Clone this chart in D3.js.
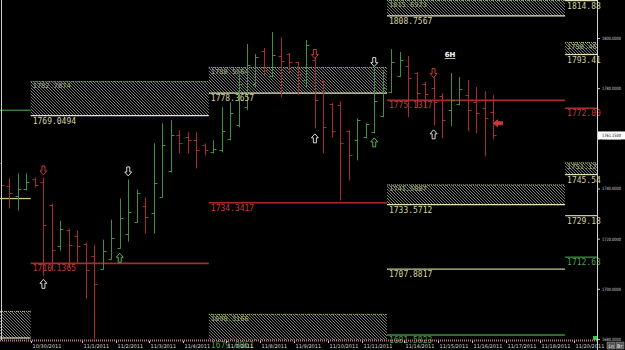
<!DOCTYPE html>
<html>
<head>
<meta charset="utf-8">
<script src="https://cdn.jsdelivr.net/npm/d3@7"></script>
<style>
  html, body { margin: 0; padding: 0; background: #000; }
  svg { display: block; }
</style>
</head>
<body>
<div id="chart"></div>
<script>
// 6H gold bars with weekly supply/demand zones

// bar index -> [open, high, low, close]
const bars = [
  [1750.0, 1752.0, 1736.4, 1741.2], [1740.8, 1744.0, 1732.0, 1738.4],
  [1737.2, 1746.0, 1731.2, 1740.0], [1740.0, 1746.0, 1739.2, 1742.4],
  [1743.6, 1744.4, 1740.4, 1741.2], [1742.4, 1744.4, 1705.2, 1725.6],
  [1733.6, 1734.0, 1707.2, 1715.6], [1717.2, 1727.2, 1715.2, 1724.0],
  [1723.6, 1724.0, 1708.4, 1717.6], [1721.2, 1723.2, 1710.4, 1717.2],
  [1718.0, 1718.4, 1696.0, 1707.6], [1713.2, 1717.6, 1680.0, 1702.0],
  [1708.0, 1719.6, 1707.6, 1715.2], [1712.0, 1727.6, 1711.6, 1720.4],
  [1716.4, 1736.0, 1716.0, 1728.4], [1722.0, 1743.6, 1718.8, 1730.8],
  [1726.8, 1739.6, 1726.4, 1738.4], [1733.2, 1736.4, 1722.0, 1728.8],
  [1730.4, 1758.0, 1722.0, 1742.0], [1736.8, 1766.0, 1736.4, 1757.2],
  [1746.8, 1767.2, 1746.4, 1761.2], [1761.2, 1763.2, 1754.0, 1758.0],
  [1760.4, 1762.4, 1754.0, 1759.2], [1759.2, 1762.4, 1748.0, 1755.2],
  [1757.2, 1758.0, 1753.2, 1755.2], [1754.4, 1759.2, 1754.0, 1755.6],
  [1755.2, 1772.4, 1754.4, 1762.8], [1759.6, 1774.4, 1759.2, 1770.0],
  [1765.2, 1785.2, 1764.4, 1781.6], [1772.4, 1797.6, 1771.2, 1789.2],
  [1781.6, 1793.6, 1780.4, 1792.4], [1794.8, 1796.0, 1785.2, 1787.2],
  [1784.8, 1802.4, 1784.0, 1793.2], [1792.8, 1800.4, 1776.4, 1790.8],
  [1793.6, 1794.0, 1786.0, 1790.4], [1790.4, 1790.4, 1777.2, 1785.6],
  [1783.2, 1799.2, 1780.4, 1797.2], [1791.2, 1792.4, 1764.0, 1775.2],
  [1782.8, 1783.2, 1754.0, 1764.4], [1773.6, 1774.0, 1760.4, 1762.8],
  [1773.2, 1774.8, 1735.2, 1758.0], [1762.8, 1763.2, 1743.2, 1753.2],
  [1759.2, 1768.0, 1751.2, 1767.2], [1760.4, 1766.0, 1760.0, 1765.6],
  [1762.4, 1788.0, 1762.0, 1774.8], [1768.8, 1787.2, 1768.4, 1780.0],
  [1778.4, 1795.6, 1778.0, 1790.4], [1784.8, 1794.4, 1784.4, 1791.2],
  [1788.8, 1792.8, 1768.4, 1784.0], [1786.0, 1786.4, 1772.4, 1778.0],
  [1781.6, 1782.4, 1772.4, 1777.6], [1780.0, 1784.4, 1765.2, 1774.4],
  [1776.8, 1778.0, 1760.0, 1767.2], [1771.2, 1786.0, 1764.8, 1775.2],
  [1773.6, 1784.4, 1773.2, 1779.6], [1777.2, 1783.2, 1762.8, 1771.2],
  [1774.4, 1780.4, 1762.0, 1770.0], [1772.0, 1778.8, 1752.8, 1768.0],
  [1770.4, 1777.2, 1759.6, 1761.15]
];

const lastPrice = 1761.15;

// hatched zones: [from bar, to bar, top price, bottom price, top label, bottom label]
const zones = [
  [-1, 3.5, 1691.2, 1680.4, '', ''],
  [3.5, 24.5, 1782.8, 1769.05, '1782.7874', '1769.0494'],
  [24.5, 45.5, 1788.4, 1778.0, '1788.5564', '1778.3657'],
  [24.5, 45.5, 1690.0, 1679.2, '1690.3166', '1679.0861'],
  [45.5, 66.5, 1815.2, 1808.8, '1815.6923', '1808.7567'],
  [45.5, 66.5, 1741.6, 1733.57, '1741.5087', '1733.5712'],
  [66.5, 70.4, 1815.2, 1814.9, '', '1814.88'],
  [66.5, 70.4, 1798.4, 1793.41, '1798.46', '1793.41'],
  [66.5, 70.4, 1750.4, 1745.54, '1751.12', '1745.54']
];

// single levels: [from bar, to bar, price, kind, label]
const levels = [
  [-1, 3.5, 1771.2, 'green', ''],
  [-1, 3.5, 1736.0, 'olive', ''],
  [3.5, 24.5, 1710.14, 'red', '1710.1365'],
  [24.5, 45.5, 1734.34, 'red', '1734.3417'],
  [45.5, 66.5, 1775.13, 'red', '1775.1317'],
  [45.5, 66.5, 1707.88, 'olive', '1707.8817'],
  [45.5, 66.5, 1681.6, 'green', '1681.5823'],
  [66.5, 70.4, 1772.0, 'red', '1772.00'],
  [66.5, 70.4, 1729.18, 'olive', '1729.18'],
  [66.5, 70.4, 1712.63, 'green', '1712.63']
];

// signal arrows: [bar, price, direction, colour]
const signals = [
  [5, 1747.2, 'down', 'red'], [5, 1702.0, 'up', 'white'],
  [15, 1746.8, 'down', 'white'], [14, 1712.4, 'up', 'green'],
  [37, 1793.6, 'down', 'red'], [37, 1760.0, 'up', 'white'],
  [44, 1790.4, 'down', 'white'], [44, 1758.4, 'up', 'green'],
  [51, 1786.0, 'down', 'red'], [51, 1761.6, 'up', 'white'],
  [58.6, 1766.0, 'left', 'red']
];

const priceTicks = [1680, 1700, 1720, 1740, 1760, 1780, 1800];
const dateLabels = ['10/30/2011', '11/1/2011', '11/2/2011', '11/3/2011', '11/4/2011',
  '11/7/2011', '11/8/2011', '11/9/2011', '11/10/2011', '11/11/2011', '11/14/2011',
  '11/15/2011', '11/16/2011', '11/17/2011', '11/18/2011', '11/20/2011'];
const dateAt = [3.5, 9.5, 13.5, 17.5, 21.5, 26.5, 30.5, 34.5, 38.5, 42.5, 47.5,
  51.5, 55.5, 59.5, 63.5, 67.5];

const width = 625, height = 350;
const plotRight = 597, plotBottom = 340;

const colors = {
  green: '#3f8f45', red: '#a82c2c', olive: '#c8c890', white: '#e8e8e8',
  greenText: '#4fa04f', redText: '#c43a3a', oliveText: '#d4d4a4'
};

const x = d3.scaleLinear().domain([0, 58]).range([1, 493]);
const y = d3.scaleLinear().domain([1680, 1800]).range([339, 38]);
const px = v => Math.max(0, Math.min(plotRight, x(v)));

const svg = d3.select('#chart').append('svg')
  .attr('width', width).attr('height', height)
  .style('background', '#000')
  .style('font-family', '"DejaVu Sans Mono", monospace');

const defs = svg.append('defs');
defs.append('pattern')
  .attr('id', 'hatch')
  .attr('patternUnits', 'userSpaceOnUse')
  .attr('width', 3).attr('height', 3)
  .append('path')
  .attr('d', 'M0,0 L3,3 M-1,2 L1,4 M2,-1 L4,1')
  .attr('stroke', '#9c9c9c')
  .attr('stroke-width', 0.8);
defs.append('clipPath').attr('id', 'plot')
  .append('rect').attr('x', 0).attr('y', 0).attr('width', plotRight).attr('height', plotBottom);

const plot = svg.append('g').attr('clip-path', 'url(#plot)');

// zones
const zoneG = plot.append('g');
zones.forEach(([a, b, top, bot, tl]) => {
  const x0 = px(a), x1 = px(b);
  const y0 = y(top), y1 = y(bot);
  zoneG.append('rect')
    .attr('x', x0).attr('y', y0)
    .attr('width', x1 - x0).attr('height', y1 - y0)
    .attr('fill', 'url(#hatch)');
  zoneG.append('line')
    .attr('x1', x0).attr('x2', x1).attr('y1', y0 + 0.5).attr('y2', y0 + 0.5)
    .attr('stroke', '#a8c870').attr('stroke-dasharray', '1,1');
  zoneG.append('line')
    .attr('x1', x0).attr('x2', x1).attr('y1', y1).attr('y2', y1)
    .attr('stroke', '#e6e6b8').attr('stroke-width', 1.2);
  if (tl) {
    zoneG.append('text')
      .attr('x', x0 + 2).attr('y', y0 + 7)
      .attr('font-size', 7).attr('fill', '#9fb37a')
      .text(tl);
  }
});

// levels
levels.forEach(([a, b, p, kind]) => {
  plot.append('line')
    .attr('x1', px(a)).attr('x2', px(b))
    .attr('y1', y(p)).attr('y2', y(p))
    .attr('stroke', colors[kind])
    .attr('stroke-width', kind === 'red' ? 1.6 : 1.3);
});

// left border line
svg.append('line')
  .attr('x1', 1.5).attr('x2', 1.5).attr('y1', 0).attr('y2', plotBottom)
  .attr('stroke', '#cfcfcf');

// OHLC bars
const barG = plot.append('g');
bars.forEach(([o, h, l, c], i) => {
  const cx = Math.round(x(i)) + 0.5;
  const col = c >= o ? colors.green : colors.red;
  barG.append('line').attr('x1', cx).attr('x2', cx)
    .attr('y1', y(h)).attr('y2', y(l)).attr('stroke', col);
  barG.append('line').attr('x1', cx - 3).attr('x2', cx)
    .attr('y1', Math.round(y(o)) + 0.5).attr('y2', Math.round(y(o)) + 0.5).attr('stroke', col);
  barG.append('line').attr('x1', cx).attr('x2', cx + 3)
    .attr('y1', Math.round(y(c)) + 0.5).attr('y2', Math.round(y(c)) + 0.5).attr('stroke', col);
});

// level/zone bottom labels
const labelG = svg.append('g').attr('font-size', 8);
zones.forEach(([a, b, top, bot, tl, bl]) => {
  if (!bl) return;
  labelG.append('text')
    .attr('x', px(a) + 2).attr('y', Math.min(y(bot) + 8, 348))
    .attr('fill', bot < 1682 ? colors.greenText : colors.oliveText)
    .text(bl);
});
levels.forEach(([a, b, p, kind, label]) => {
  if (!label) return;
  labelG.append('text')
    .attr('x', px(a) + 2).attr('y', y(p) + 8)
    .attr('fill', kind === 'red' ? colors.redText : kind === 'green' ? colors.greenText : colors.oliveText)
    .text(label);
});

// signal arrows
const arrowColors = { red: '#c83a3a', white: '#d8d8d8', green: '#5fb05f' };
const arrowUp = 'M0,-4.5 L3.5,-0.5 L1.5,-0.5 L1.5,4.5 L-1.5,4.5 L-1.5,-0.5 L-3.5,-0.5 Z';
signals.forEach(([i, p, dir, col]) => {
  const rot = dir === 'up' ? 0 : dir === 'down' ? 180 : -90;
  svg.append('path')
    .attr('d', arrowUp)
    .attr('transform', `translate(${x(i)},${y(p)}) rotate(${rot})`)
    .attr('fill', dir === 'left' ? arrowColors[col] : 'none')
    .attr('stroke', arrowColors[col])
    .attr('stroke-width', 1);
});

// timeframe tag
svg.append('text')
  .attr('x', x(52.3)).attr('y', y(1792.4))
  .attr('font-size', 7).attr('font-weight', 'bold').attr('fill', '#fff')
  .attr('font-family', 'DejaVu Sans, sans-serif')
  .attr('text-decoration', 'underline')
  .text('6H');

// right price axis
const yAxis = svg.append('g')
  .attr('transform', `translate(${plotRight},0)`)
  .call(d3.axisRight(y).tickValues(priceTicks).tickSize(3).tickFormat(d3.format('.4f')));
yAxis.select('.domain').attr('stroke', '#d0d0d0').attr('d', `M0.5,0V${height}`);
yAxis.selectAll('.tick line').attr('stroke', '#d0d0d0');
yAxis.selectAll('.tick text')
  .attr('fill', '#d8d8d8').attr('font-size', 4.5)
  .attr('font-family', 'DejaVu Sans, sans-serif').attr('x', 5)
  .attr('textLength', 19).attr('lengthAdjust', 'spacingAndGlyphs');

// last price tag
const lp = svg.append('g').attr('transform', `translate(${plotRight + 1},${y(lastPrice)})`);
lp.append('rect').attr('x', 0).attr('y', -4).attr('width', 27).attr('height', 8).attr('fill', '#fff');
lp.append('text').attr('x', 4).attr('y', 2)
  .attr('font-size', 4.5).attr('font-family', 'DejaVu Sans, sans-serif')
  .attr('textLength', 19).attr('lengthAdjust', 'spacingAndGlyphs')
  .attr('fill', '#000').text(d3.format('.4f')(lastPrice));

// bottom time axis
svg.append('line')
  .attr('x1', 0).attr('x2', plotRight).attr('y1', plotBottom + 0.5).attr('y2', plotBottom + 0.5)
  .attr('stroke', '#c07484').attr('stroke-width', 2).attr('stroke-dasharray', '1,1');
const xAxis = svg.append('g').attr('transform', `translate(0,${plotBottom + 1})`);
dateLabels.forEach((lab, k) => {
  const tx = Math.round(x(dateAt[k])) + 0.5;
  xAxis.append('line').attr('x1', tx).attr('x2', tx).attr('y1', 0).attr('y2', 2)
    .attr('stroke', '#e0c0c8');
  xAxis.append('text').attr('x', tx + 1).attr('y', 7)
    .attr('font-size', 5).attr('font-family', 'DejaVu Sans, sans-serif')
    .attr('fill', '#d8d8d8').text(lab);
});

// corner widgets
svg.append('rect').attr('x', plotRight - 4).attr('y', plotBottom - 4)
  .attr('width', 4).attr('height', 4).attr('fill', '#3ec83e');
['in', 'Br'].forEach((t, k) => {
  svg.append('rect').attr('x', 607 + k * 9).attr('y', 342).attr('width', 8).attr('height', 7)
    .attr('fill', '#555').attr('stroke', '#999').attr('stroke-width', 0.5);
  svg.append('text').attr('x', 608 + k * 9).attr('y', 348)
    .attr('font-size', 5).attr('fill', '#eee').text(t);
});
</script>
</body>
</html>
